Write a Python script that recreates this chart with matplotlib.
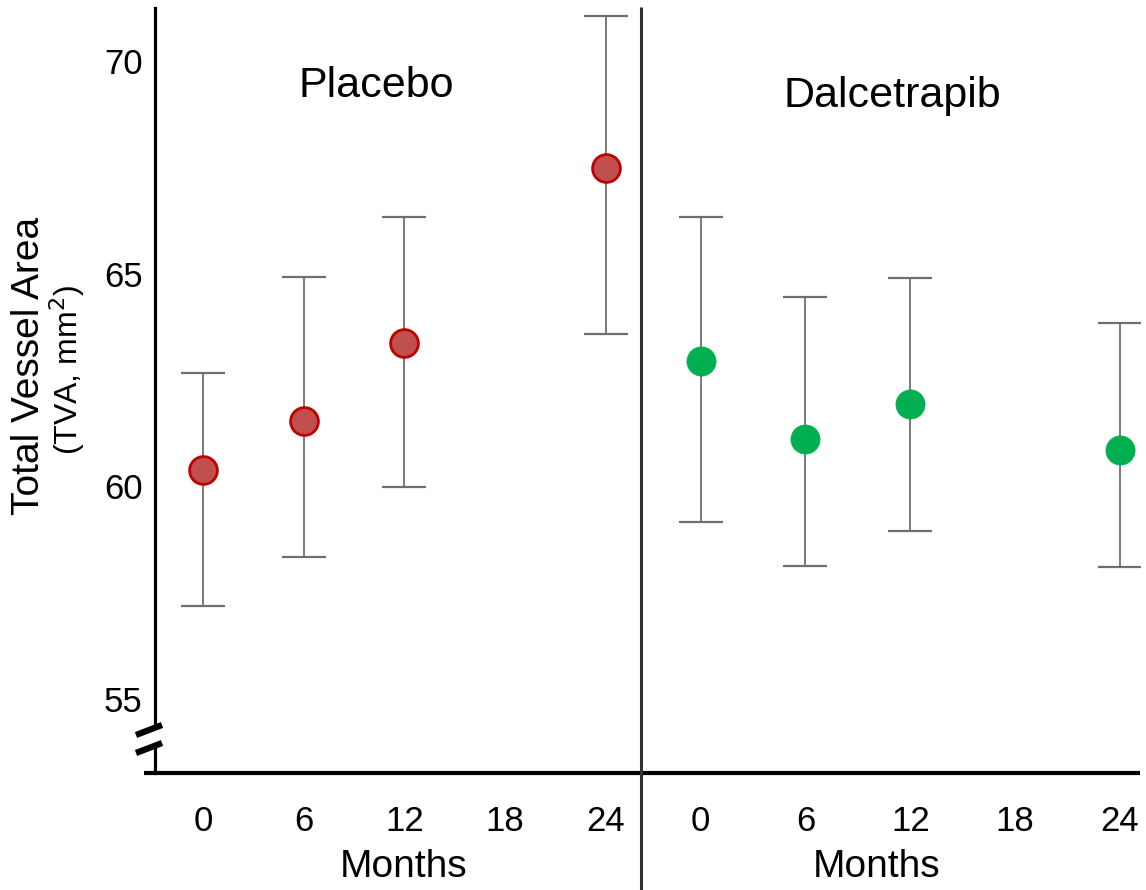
import matplotlib
matplotlib.use("Agg")
import matplotlib.pyplot as plt
from matplotlib.lines import Line2D
from matplotlib.patches import Polygon

plt.rcParams["font.family"] = ["Liberation Sans", "DejaVu Sans"]

# ---- data: total vessel area (mm^2), mean with lower / upper interval ----
months = [0, 6, 12, 18, 24]
tick_labels = ["0", "6", "12", "18", "24"]

placebo_months = [0, 6, 12, 24]
placebo_mean = [60.38, 61.54, 63.37, 67.48]
placebo_low = [57.19, 58.34, 59.98, 63.58]
placebo_high = [62.66, 64.93, 66.34, 71.06]

dalc_months = [0, 6, 12, 24]
dalc_mean = [62.95, 61.11, 61.94, 60.85]
dalc_low = [59.16, 58.13, 58.96, 58.11]
dalc_high = [66.34, 64.44, 64.90, 63.83]

y_ticks = [55, 60, 65, 70]

W, H = 1146, 890
fig = plt.figure(figsize=(W / 100, H / 100), dpi=100)


def fx(px):
    return px / W


def fy(py):
    return 1 - py / H


ax_top, ax_bot = 8, 773
axL = fig.add_axes([fx(155), fy(ax_bot), fx(641) - fx(155), fy(ax_top) - fy(ax_bot)])
axR = fig.add_axes([fx(641), fy(ax_bot), fx(1140) - fx(641), fy(ax_top) - fy(ax_bot)],
                   sharey=axL)

ylim = (53.26, 71.246)


def draw_group(ax, xs, mean, low, high, face, edge, ms, mew):
    yerr = [[m - l for m, l in zip(mean, low)], [h - m for m, h in zip(mean, high)]]
    _, caps, bars = ax.errorbar(xs, mean, yerr=yerr, fmt="none", ecolor="#6e6e6e",
                                elinewidth=1.3, capsize=16, capthick=1.6, zorder=2)
    for c in caps:
        c.set_color("#333333")
    ax.plot(xs, mean, linestyle="none", marker="o", markersize=ms,
            markerfacecolor=face, markeredgecolor=edge, markeredgewidth=mew, zorder=3)


draw_group(axL, placebo_months, placebo_mean, placebo_low, placebo_high,
           "#c0504d", "#c00000", 20, 2.0)
draw_group(axR, dalc_months, dalc_mean, dalc_low, dalc_high,
           "#00b050", "#00b050", 21, 0.5)

axL.set_xlim(-2.859, 26.09)
axR.set_xlim(-3.417, 25.15)
axL.set_ylim(*ylim)

for ax in (axL, axR):
    ax.set_xticks(months)
    ax.set_xticklabels(tick_labels)
    ax.tick_params(axis="x", length=0, pad=23, labelsize=25)
    for s in ("top", "right", "bottom", "left"):
        ax.spines[s].set_visible(False)
    ax.patch.set_alpha(0)

axL.set_yticks(y_ticks)
axL.tick_params(axis="y", length=0, pad=9, labelsize=25)
axL.spines["left"].set_visible(True)
axL.spines["left"].set_linewidth(2.3)
axL.spines["left"].set_color("black")
axR.tick_params(axis="y", left=False, labelleft=False)

# bottom axis line, running slightly past the y axis
fig.add_artist(Line2D([fx(144), fx(1140)], [fy(773), fy(773)], color="black",
                      lw=3.0, transform=fig.transFigure, solid_capstyle="butt"))
# divider between the two groups
fig.add_artist(Line2D([fx(641), fx(641)], [fy(7), fy(890)], color="#333333",
                      lw=2.2, transform=fig.transFigure, solid_capstyle="butt"))

# axis break on the y axis
gap = Polygon([(fx(150), fy(745)), (fx(160), fy(741)), (fx(160), fy(727)), (fx(150), fy(731))],
              closed=True, facecolor="white", edgecolor="none", transform=fig.transFigure)
fig.add_artist(gap)
for y0 in (735, 753):
    fig.add_artist(Line2D([fx(136), fx(162)], [fy(y0), fy(y0 - 10)], color="black",
                          lw=4.5, transform=fig.transFigure, solid_capstyle="butt"))

# group titles
axL.text((376.5 - 155) / 486, (773 - 97) / 765, "Placebo", transform=axL.transAxes,
         ha="center", va="baseline", fontsize=31)
axR.text((892 - 641) / 499, (773 - 107) / 765, "Dalcetrapib", transform=axR.transAxes,
         ha="center", va="baseline", fontsize=31)

# x axis titles
fig.text(fx(404), fy(877), "Months", ha="center", va="baseline", fontsize=28)
fig.text(fx(877), fy(877), "Months", ha="center", va="baseline", fontsize=28)

# y axis title
fig.text(fx(29), fy(366), "Total Vessel Area", rotation=90, ha="center", va="center",
         fontsize=28)
fig.text(fx(67), fy(370), "(TVA, mm$^2$)", rotation=90, ha="center", va="center",
         fontsize=23)

fig.savefig("out.png", dpi=100, facecolor="white")
